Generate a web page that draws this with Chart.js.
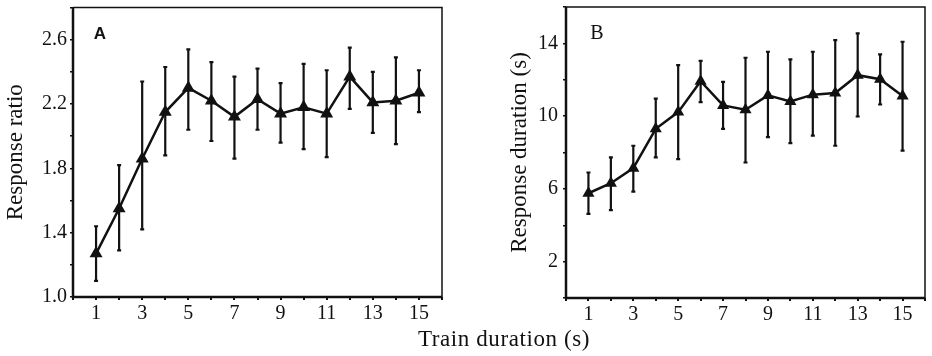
<!DOCTYPE html>
<html>
<head>
<meta charset="utf-8">
<script src="https://cdn.jsdelivr.net/npm/chart.js@4"></script>
<style>
  body { margin: 0; background: #fff; }
  #wrap { position: relative; width: 932px; height: 356px; }
  .panel { position: absolute; top: 0; height: 356px; }
  #panelA { left: 0; width: 466px; }
  #panelB { left: 466px; width: 466px; }
  #xTitle {
    position: absolute; left: 404px; width: 200px; top: 326px;
    text-align: center; font: 23px "Liberation Serif", serif; letter-spacing: 0.6px; color: #111;
  }
</style>
</head>
<body>
<div id="wrap">
  <div class="panel" id="panelA"><canvas id="chartA"></canvas></div>
  <div class="panel" id="panelB"><canvas id="chartB"></canvas></div>
  <div id="xTitle">Train duration (s)</div>
</div>
<script>
// train durations (s) on the x axis
const trainDur = [1, 2, 3, 4, 5, 6, 7, 8, 9, 10, 11, 12, 13, 14, 15];
const trainTicks = [1, 3, 5, 7, 9, 11, 13, 15];

// panel A - response ratio (mean, upper and lower end of the bars)
const ratioMean = [1.27, 1.55, 1.86, 2.15, 2.30, 2.22, 2.12, 2.23, 2.14, 2.18, 2.14, 2.37, 2.21, 2.22, 2.27];
const ratioHi = [1.44, 1.82, 2.34, 2.43, 2.54, 2.46, 2.37, 2.42, 2.33, 2.45, 2.41, 2.55, 2.40, 2.49, 2.41];
const ratioLo = [1.10, 1.29, 1.42, 1.88, 2.04, 1.97, 1.86, 2.04, 1.96, 1.92, 1.87, 2.17, 2.02, 1.95, 2.15];
const ratioTicks = [1.0, 1.4, 1.8, 2.2, 2.6];

// panel B - response duration (s)
const durMean = [5.76, 6.31, 7.14, 9.30, 10.22, 11.92, 10.59, 10.35, 11.14, 10.81, 11.18, 11.27, 12.25, 12.03, 11.11];
const durHi = [6.90, 7.73, 8.37, 10.96, 12.80, 13.04, 11.88, 13.21, 13.54, 13.12, 13.54, 14.18, 14.55, 13.39, 14.09];
const durLo = [4.63, 4.83, 5.85, 7.73, 7.64, 10.77, 9.30, 7.45, 8.84, 8.52, 8.93, 8.37, 9.98, 10.64, 8.10];
const durTicks = [2, 6, 10, 14];

const ink = "#111";
const serif = "'Liberation Serif', 'Times New Roman', serif";

// error bars + box frame + panel letter
const panelExtras = {
    id: "panelExtras",
    beforeDatasetsDraw(chart, args, opts) {
        const ctx = chart.ctx;
        const xs = chart.scales.x;
        const ys = chart.scales.y;
        const area = chart.chartArea;
        ctx.save();
        ctx.strokeStyle = ink;

        // frame: thin top/right, heavier left/bottom
        ctx.lineWidth = 1.5;
        ctx.beginPath();
        ctx.moveTo(area.left, area.top);
        ctx.lineTo(area.right, area.top);
        ctx.lineTo(area.right, area.bottom);
        ctx.stroke();
        ctx.lineWidth = 2.5;
        ctx.beginPath();
        ctx.moveTo(area.left, area.top);
        ctx.lineTo(area.left, area.bottom);
        ctx.lineTo(area.right, area.bottom);
        ctx.stroke();

        // error bars
        ctx.lineWidth = 2.2;
        for (let i = 0; i < opts.xs.length; i++) {
            const px = xs.getPixelForValue(opts.xs[i]);
            const top = ys.getPixelForValue(opts.hi[i]);
            const bot = ys.getPixelForValue(opts.lo[i]);
            ctx.beginPath();
            ctx.moveTo(px, top);
            ctx.lineTo(px, bot);
            ctx.moveTo(px - 2, top);
            ctx.lineTo(px + 2, top);
            ctx.moveTo(px - 2, bot);
            ctx.lineTo(px + 2, bot);
            ctx.stroke();
        }

        // panel letter
        ctx.fillStyle = ink;
        ctx.font = opts.letterFont;
        ctx.textAlign = "center";
        ctx.textBaseline = "middle";
        ctx.fillText(opts.letter, area.left + opts.letterDx, area.top + 27);
        ctx.restore();
    }
};

function makePanel(canvasId, setup) {
    const config = {
        type: "line",
        data: {
            datasets: [{
                data: setup.xs.map((x, i) => ({ x: x, y: setup.mean[i] })),
                borderColor: ink,
                backgroundColor: ink,
                borderWidth: 2.5,
                pointStyle: "triangle",
                pointRadius: setup.pointRadius,
                pointBackgroundColor: ink,
                pointBorderColor: ink,
                tension: 0
            }]
        },
        plugins: [panelExtras],
        options: {
            responsive: false,
            animation: false,
            events: [],
            layout: { padding: setup.padding },
            plugins: {
                legend: { display: false },
                tooltip: { enabled: false },
                panelExtras: {
                    xs: setup.xs, hi: setup.hi, lo: setup.lo,
                    letter: setup.letter, letterFont: setup.letterFont, letterDx: setup.letterDx
                }
            },
            scales: {
                x: {
                    type: "linear",
                    min: 0,
                    max: 16,
                    border: { display: false },
                    grid: { drawOnChartArea: false, tickLength: 3, lineWidth: 2, color: ink },
                    ticks: {
                        stepSize: 1,
                        autoSkip: false,
                        maxRotation: 0,
                        padding: 2,
                        color: ink,
                        font: { family: serif, size: 20 },
                        callback: (v) => trainTicks.includes(v) ? String(v) : ""
                    },
                    afterFit: (axis) => {
                        axis.height = setup.xHeight;
                        axis.paddingLeft = 0;
                        axis.paddingRight = 0;
                    }
                },
                y: {
                    min: setup.yMin,
                    max: setup.yMax,
                    border: { display: false },
                    grid: { drawOnChartArea: false, tickLength: 3, lineWidth: 1.5, color: ink },
                    title: {
                        display: true,
                        text: setup.yTitle,
                        color: ink,
                        font: { family: serif, size: 23 },
                        padding: { top: 2, bottom: 0 }
                    },
                    ticks: {
                        stepSize: setup.yStep,
                        autoSkip: false,
                        padding: setup.yPad,
                        color: ink,
                        font: { family: serif, size: 20 },
                        callback: setup.yLabel
                    },
                    afterFit: (axis) => {
                        axis.width = setup.yWidth;
                        axis.paddingTop = 0;
                        axis.paddingBottom = 0;
                    }
                }
            }
        }
    };

    const canvas = document.getElementById(canvasId);
    canvas.width = 466;
    canvas.height = 356;
    return new Chart(canvas, config);
}

makePanel("chartA", {
    xs: trainDur, mean: ratioMean, hi: ratioHi, lo: ratioLo,
    yMin: 1.0, yMax: 2.8, yStep: 0.2, yPad: 3,
    yLabel: (v) => ratioTicks.some(t => Math.abs(t - v) < 1e-6) ? v.toFixed(1) : "",
    yTitle: "Response ratio",
    yWidth: 73, xHeight: 59,
    padding: { top: 6, right: 24, left: 0, bottom: 0 },
    pointRadius: 5,
    letter: "A", letterFont: "bold 17px 'Liberation Sans', sans-serif", letterDx: 27
});

makePanel("chartB", {
    xs: trainDur, mean: durMean, hi: durHi, lo: durLo,
    yMin: 0, yMax: 16, yStep: 2, yPad: 5,
    yLabel: (v) => durTicks.includes(v) ? String(v) : "",
    yTitle: "Response duration (s)",
    yWidth: 62, xHeight: 58,
    padding: { top: 7, right: 2, left: 38, bottom: 0 },
    pointRadius: 4.5,
    letter: "B", letterFont: "20px " + serif, letterDx: 31
});
</script>
</body>
</html>
